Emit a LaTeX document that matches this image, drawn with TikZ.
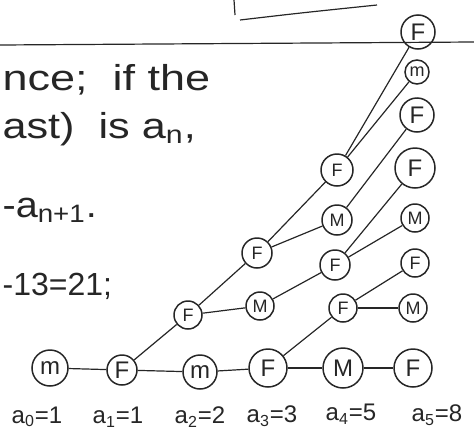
\documentclass[tikz,border=0pt]{standalone}
\usepackage{fontspec}
\setmainfont{Liberation Sans}
\begin{document}
\begin{tikzpicture}[x=.5pt,y=-.5pt,line width=.6pt,color=black!85,
  bee/.style={circle,draw,line width=.75pt,inner sep=0pt,minimum size=#1,font=\fontsize{9}{9}\selectfont},
  bigbee/.style={bee=#1,font=\fontsize{12}{12}\selectfont},
  note/.style={anchor=base west,inner sep=0pt,font=\fontsize{18}{20}\selectfont},
  gen/.style={inner sep=0pt,font=\fontsize{12}{12}\selectfont}]
\clip (0,0) rectangle (474,439);
\draw (0,45)--(474,42);
\draw (234,0)--(235,15); \draw (240,20) .. controls (300,13) .. (377,5);
\node[note] (t1) at (2,90) {\scalebox{1.25}[1]{nce;\ \ if the}};
\node[note] (t2) at (2,138) {\scalebox{1.2}[1]{ast)\ \ is a\textsubscript{n},}};
\node[note] (t3) at (2,217) {\scalebox{1.1}[1]{-a\textsubscript{n+1}.}};
\node[note,font=\fontsize{16}{18}\selectfont] (t4) at (2,295) {-13=21;};
% generations, oldest on the right
\node[bigbee=18pt] (m0) at (50,368) {m};
\node[bigbee=15pt] (f1) at (122,370) {F};
\node[bigbee=17pt] (m2) at (200,372) {m};
\node[bee=14pt] (f2) at (188,315) {F};
\node[bigbee=19pt] (f3a) at (268,368) {F};
\node[bee=14pt] (m3) at (260,306) {M};
\node[bee=15pt] (f3b) at (257,253) {F};
\node[bigbee=20pt] (m4a) at (343,368) {M};
\node[bee=14pt] (f4a) at (343,308) {F};
\node[bee=15pt] (f4b) at (335,265) {F};
\node[bee=15pt] (m4b) at (337,220) {M};
\node[bee=16pt] (f4c) at (337,170) {F};
\node[bigbee=19pt] (f5a) at (413,368) {F};
\node[bee=14pt] (m5a) at (413,308) {M};
\node[bee=14pt] (f5b) at (415,263) {F};
\node[bee=14pt] (m5b) at (415,218) {M};
\node[bigbee=20pt] (f5c) at (415,168) {F};
\node[bigbee=17pt] (f5d) at (417,115) {F};
\node[bee=12pt] (m5c) at (417,72) {m};
\node[bigbee=17pt] (f5e) at (418,32) {F};
\draw (m0)--(f1); \draw (f1)--(m2); \draw (f1)--(f2);
\draw (m2)--(f3a); \draw (f2)--(m3); \draw (f2)--(f3b);
\draw (f3a)--(m4a); \draw (f3a)--(f4a); \draw (m3)--(f4b);
\draw (f3b)--(m4b); \draw (f3b)--(f4c);
\draw (m4a)--(f5a); \draw (f4a)--(m5a); \draw (f4a)--(f5b);
\draw (f4b)--(m5b); \draw (f4b)--(f5c); \draw (m4b)--(f5d);
\draw (f4c)--(m5c); \draw (f4c)--(f5e);
\node[gen] (a0) at (37,417) {a\textsubscript{0}=1};
\node[gen] (a1) at (118,417) {a\textsubscript{1}=1};
\node[gen] (a2) at (200,417) {a\textsubscript{2}=2};
\node[gen] (a3) at (272,416) {a\textsubscript{3}=3};
\node[gen] (a4) at (351,414) {a\textsubscript{4}=5};
\node[gen] (a5) at (437,415) {a\textsubscript{5}=8};
\end{tikzpicture}
\end{document}
